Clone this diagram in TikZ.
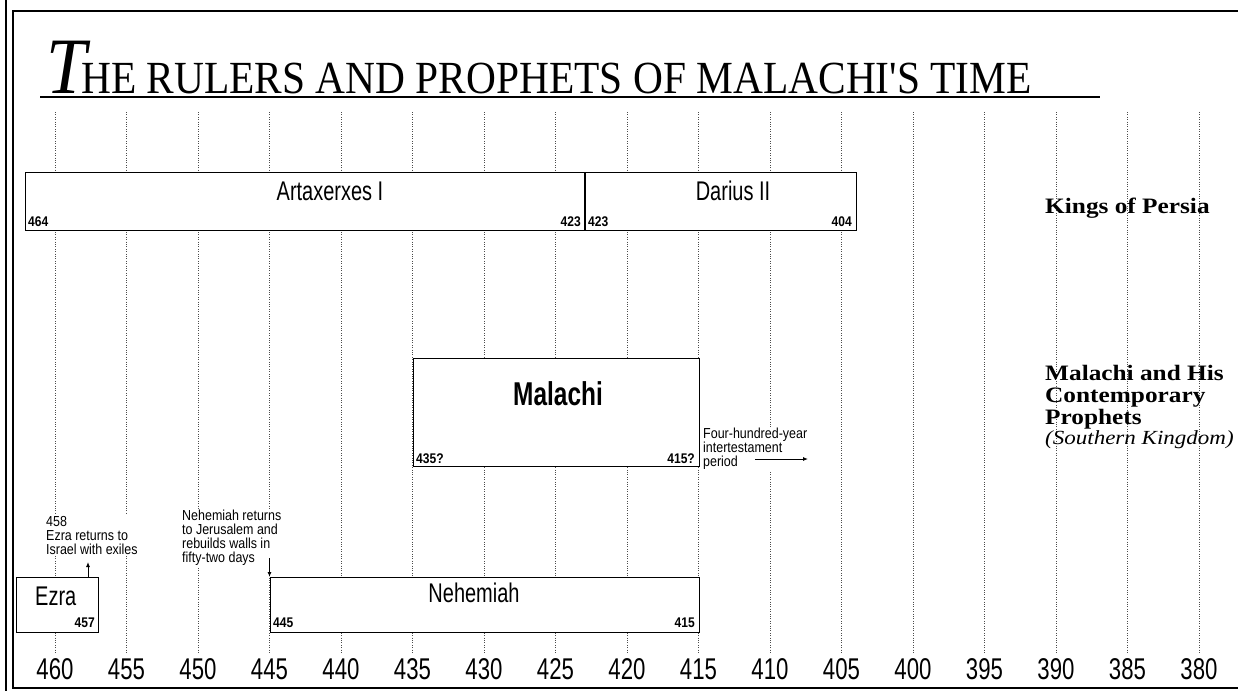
\documentclass[tikz,border=0pt]{standalone}
\usepackage{fontspec}
\setmainfont{Liberation Serif}
\newfontfamily\condfont[FakeStretch=0.74]{Liberation Sans}
\newfontfamily\smallfont[FakeStretch=0.86]{Liberation Sans}
\newfontfamily\titlefont[FakeStretch=0.9]{Liberation Serif}
\newfontfamily\sidefont[FakeStretch=1.15]{Liberation Serif}
\usetikzlibrary{arrows.meta}
\tikzset{
  gridln/.style={draw=black!70, line width=0.7pt, dash pattern=on 0.9pt off 1.5pt},
  framel/.style={draw=black, line width=1.2pt},
  periodbox/.style={draw=black, line width=1.4pt, fill=white, inner sep=0pt, anchor=north west},
  boxtitle/.style={font=\condfont\fontsize{27}{27}\selectfont, anchor=base, inner sep=0pt},
  boxnum/.style={font=\smallfont\bfseries\fontsize{14}{14}\selectfont, inner sep=0pt},
  axisnum/.style={font=\condfont\fontsize{30}{30}\selectfont, anchor=base, inner sep=0pt},
  note/.style={font=\smallfont\fontsize{14.5}{14}\selectfont, align=left, fill=white, inner sep=1pt, anchor=north west},
  sidelabel/.style={font=\sidefont\bfseries\fontsize{22}{22}\selectfont, anchor=base west, inner sep=0pt},
  arr/.style={line width=0.9pt, -{Latex[length=5pt,width=4pt]}}
}
\begin{document}
\begin{tikzpicture}[x=1pt,y=-1pt]
\useasboundingbox (0,0) rectangle (1238,691);
% frame
\draw[framel] (6,0) -- (6,691);
\draw[framel] (1238,11) -- (13,11) -- (13,688) -- (1238,688);
% title
\node[anchor=base west, inner sep=0pt] (title) at (46,93)
  {\titlefont\fontsize{46}{46}\selectfont{\fontsize{80}{80}\selectfont\itshape T}\kern-5pt HE RULERS AND PROPHETS OF MALACHI'S TIME};
\coordinate (ulA) at (40,97);
\coordinate (ulB) at (1100,97);
\draw[line width=1.6pt] (ulA) -- (ulB);
% grid lines and axis labels
\foreach \yr in {460,455,...,380}{
  \pgfmathsetmacro{\xx}{55+(460-\yr)*14.3}
  \draw[gridln] (\xx,112) -- (\xx,653);
  \node[axisnum] (lab\yr) at (\xx,679) {\yr};
}
% Kings of Persia
\node[periodbox, minimum width=559pt, minimum height=58pt] (artax) at (25,172) {};
\node[periodbox, minimum width=271.7pt, minimum height=58pt] (darius) at (584.1,172) {};
\node[boxtitle] (artaxT) at (330,200) {Artaxerxes I};
\node[boxnum, anchor=base west] (artaxS) at (28,226) {464};
\node[boxnum, anchor=base east] (artaxE) at (581,226) {423};
\node[boxtitle] (dariusT) at (733,200) {Darius II};
\node[boxnum, anchor=base west] (dariusS) at (588,226) {423};
\node[boxnum, anchor=base east] (dariusE) at (852,226) {404};
\node[sidelabel] (kings) at (1045,213) {Kings of Persia};
% Malachi
\node[periodbox, minimum width=286pt, minimum height=108pt] (malachi) at (412.5,358) {};
\node[anchor=base, inner sep=0pt, font=\condfont\bfseries\fontsize{33}{33}\selectfont] (malachiT) at (558,405) {Malachi};
\node[boxnum, anchor=base west] (malS) at (416,463) {435?};
\node[boxnum, anchor=base east] (malE) at (695,463) {415?};
\node[note] (inter) at (702,427) {Four-hundred-year\\intertestament\\period};
\coordinate (itA) at (755,459);
\coordinate (itB) at (808,459);
\draw[arr] (itA) -- (itB);
\node[sidelabel] (mal1) at (1045,380) {Malachi and His};
\node[sidelabel] (mal2) at (1045,402) {Contemporary};
\node[sidelabel] (mal3) at (1045,424) {Prophets};
\node[anchor=base west, inner sep=0pt, font=\sidefont\itshape\fontsize{20}{20}\selectfont] (mal4) at (1045,444) {(Southern Kingdom)};
% Ezra and Nehemiah
\node[periodbox, minimum width=82pt, minimum height=55pt] (ezra) at (16,577) {};
\node[periodbox, minimum width=429pt, minimum height=55pt] (neh) at (269.5,577) {};
\node[boxtitle, anchor=base west] (ezraT) at (35,605) {Ezra};
\node[boxnum, anchor=base east] (ezraE) at (95,627) {457};
\node[boxtitle] (nehT) at (474,602) {Nehemiah};
\node[boxnum, anchor=base west] (nehS) at (273,627) {445};
\node[boxnum, anchor=base east] (nehE) at (695,627) {415};
\node[note] (ezraN) at (45,515) {458\\Ezra returns to\\Israel with exiles};
\node[note] (nehN) at (181,509) {Nehemiah returns\\to Jerusalem and\\rebuilds walls in\\fifty-two days};
\coordinate (ezraTip) at (88,562);
\draw[arr] (ezraTip |- ezra.north) -- (ezraTip);
\coordinate (nehFrom) at (269.5,558);
\draw[arr] (nehFrom) -- (neh.north west);
\end{tikzpicture}
\end{document}
